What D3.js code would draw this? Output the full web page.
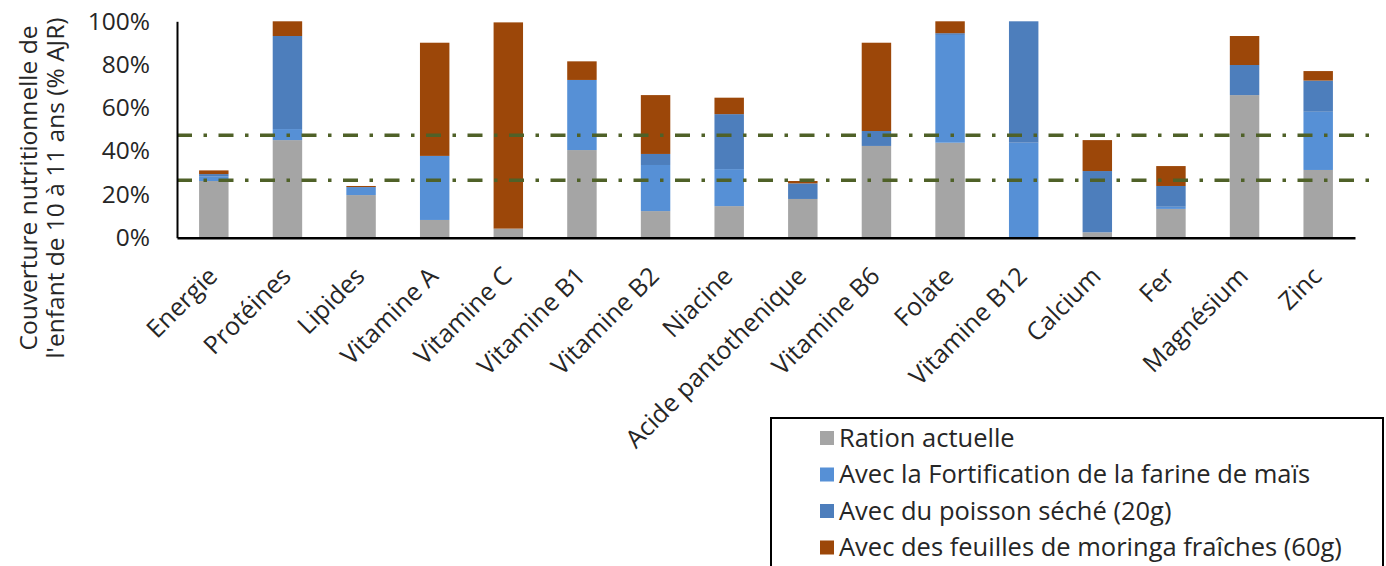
<!DOCTYPE html>
<html>
<head>
<meta charset="utf-8">
<script src="https://cdn.jsdelivr.net/npm/d3@7"></script>
<style>
  html, body { margin: 0; padding: 0; background: #fff; }
  svg { display: block; font-family: "Open Sans", "Noto Sans", sans-serif; }
</style>
</head>
<body>
<svg id="chart" width="1386" height="566"></svg>
<script>
// Nutrients on the x axis
const categories = ["Energie", "Protéines", "Lipides", "Vitamine A", "Vitamine C", "Vitamine B1",
  "Vitamine B2", "Niacine", "Acide pantothenique", "Vitamine B6", "Folate", "Vitamine B12",
  "Calcium", "Fer", "Magnésium", "Zinc"];

// Series names (legend order, bottom to top in each stack)
const seriesNames = ["Ration actuelle", "Avec la Fortification de la farine de maïs",
  "Avec du poisson séché (20g)", "Avec des feuilles de moringa fraîches (60g)"];

// Contribution of each step, % of recommended intake
const ration        = [26.2, 45.1, 19.7,  8.2,  4.2, 40.5, 12.3, 14.6, 17.9, 42.4, 43.9,  0.0,  2.5, 13.3, 65.9, 31.3];
const fortification = [ 2.0,  5.1,  3.7, 29.6,  0.0, 32.4, 21.3, 17.1,  0.0,  0.0, 49.8, 43.9,  0.0,  1.0,  0.0, 26.9];
const poisson       = [ 1.2, 43.0,  0.0,  0.0,  0.0,  0.0,  5.1, 25.4,  7.2,  6.9,  0.8, 56.1, 28.3,  9.6, 13.9, 14.4];
const moringa       = [ 1.7,  6.8,  0.5, 52.3, 95.3,  8.6, 27.2,  7.6,  1.1, 40.8,  5.5,  0.0, 14.3,  9.2, 13.4,  4.4];

// Reference thresholds (dash-dot lines)
const thresholds = [47.3, 26.5];

// Y axis ticks
const yTicks = [0, 20, 40, 60, 80, 100];

const colors = ["#A5A5A5", "#5690D6", "#4D7EBC", "#9C4709"];
const textColor = "#262626";
const fontSize = 24.5;

const svg = d3.select("#chart");

const plot = { left: 177, right: 1355, top: 21.3, bottom: 237.7 };

const rows = categories.map((c, i) => ({
  category: c,
  s0: ration[i], s1: fortification[i], s2: poisson[i], s3: moringa[i]
}));
const keys = ["s0", "s1", "s2", "s3"];
const stacked = d3.stack().keys(keys)(rows);

const x = d3.scaleBand().domain(categories).range([plot.left, plot.right]).paddingInner(0.6).paddingOuter(0.3);
const y = d3.scaleLinear().domain([0, 100]).range([plot.bottom, plot.top]);

// Stacked bars
svg.append("g").selectAll("g")
  .data(stacked)
  .join("g")
  .attr("fill", (d, i) => colors[i])
  .selectAll("rect")
  .data(d => d)
  .join("rect")
  .attr("x", d => x(d.data.category))
  .attr("width", x.bandwidth())
  .attr("y", d => y(d[1]))
  .attr("height", d => y(d[0]) - y(d[1]));

// Threshold lines
svg.append("g").selectAll("line")
  .data(thresholds)
  .join("line")
  .attr("x1", plot.left)
  .attr("x2", 1372)
  .attr("y1", d => y(d))
  .attr("y2", d => y(d))
  .attr("stroke", "#4F6128")
  .attr("stroke-width", 3.5)
  .attr("stroke-dasharray", "15,11.5,3.5,11.5");

// Y axis
const yAxis = d3.axisLeft(y).tickValues(yTicks).tickSize(0).tickPadding(27).tickFormat(d => d + "%");
const gy = svg.append("g").attr("transform", `translate(${plot.left},0)`).call(yAxis);
gy.select(".domain").attr("stroke", "#000").attr("stroke-width", 2);
gy.selectAll("text").attr("font-size", fontSize).attr("fill", textColor)
  .attr("font-family", "'Open Sans', sans-serif");

// X axis
const xAxis = d3.axisBottom(x).tickSize(0).tickPadding(0);
const gx = svg.append("g").attr("transform", `translate(0,${plot.bottom})`).call(xAxis);
gx.select(".domain").attr("stroke", "#000").attr("stroke-width", 2.5);
gx.selectAll("text")
  .attr("font-size", 25)
  .attr("fill", textColor)
  .attr("font-family", "'Open Sans', sans-serif")
  .attr("text-anchor", "end")
  .attr("dy", 0)
  .attr("y", 0)
  .attr("transform", "translate(5,40) rotate(-45)");

// Y axis title
const title = svg.append("text")
  .attr("transform", "translate(0,188) rotate(-90)")
  .attr("text-anchor", "middle")
  .attr("font-size", fontSize)
  .attr("fill", textColor);
title.append("tspan").attr("x", 0).attr("y", 37).text("Couverture nutritionnelle de");
title.append("tspan").attr("x", 0).attr("y", 64).text("l'enfant de 10 à 11 ans (% AJR)");

// Legend
const legend = svg.append("g");
legend.append("rect")
  .attr("x", 771).attr("y", 418).attr("width", 612).attr("height", 170)
  .attr("fill", "#fff").attr("stroke", "#000").attr("stroke-width", 2);
const item = legend.selectAll("g.item")
  .data(seriesNames)
  .join("g")
  .attr("class", "item")
  .attr("transform", (d, i) => `translate(820,${438 + i * 36.5})`);
item.append("rect")
  .attr("x", 0).attr("y", -7).attr("width", 14).attr("height", 14)
  .attr("fill", (d, i) => colors[i]);
item.append("text")
  .attr("x", 19).attr("y", 8.5)
  .attr("font-size", 25.5)
  .attr("fill", textColor)
  .text(d => d);
</script>
</body>
</html>
